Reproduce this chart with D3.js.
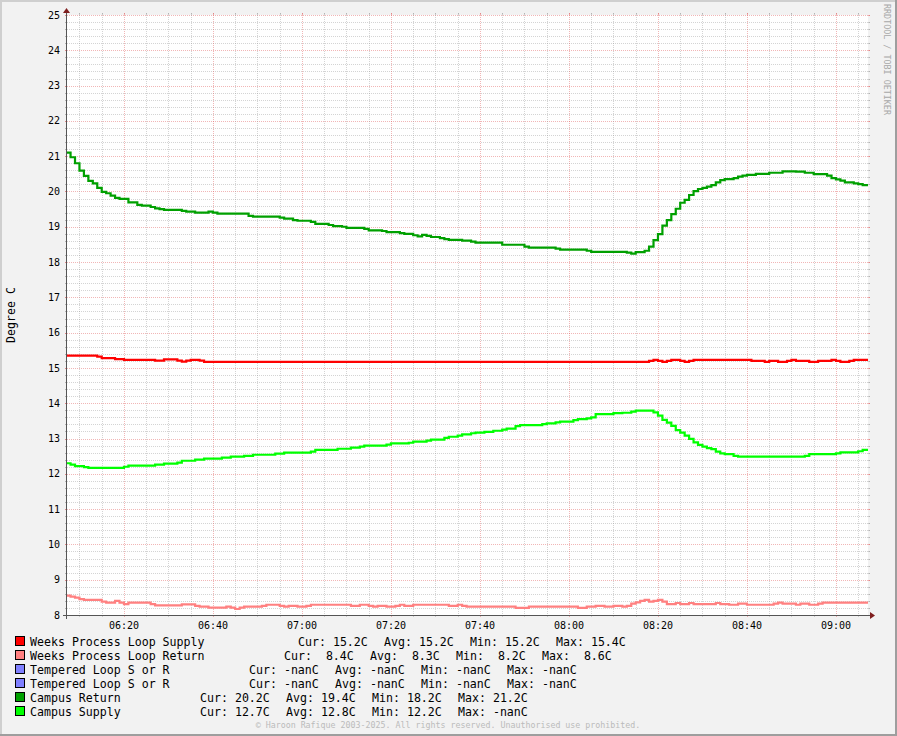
<!DOCTYPE html>
<html>
<head>
<meta charset="utf-8">
<script src="https://cdn.jsdelivr.net/npm/d3@7"></script>
<style>
  html, body { margin: 0; padding: 0; background: #F2F2F2; }
  svg { display: block; }
  text { font-family: "DejaVu Sans Mono", monospace; white-space: pre; }
</style>
</head>
<body>
<svg id="chart" width="897" height="736"></svg>
<script>
// ---------------- DATA ----------------
// time = minutes after 06:00; value in degrees C (step changes, one-minute resolution)
const timeStart = 7.2;   // 06:07:12
const timeEnd = 187.2;   // 09:07:12

const xTickLabels = ["06:20", "06:40", "07:00", "07:20", "07:40", "08:00", "08:20", "08:40", "09:00"];
const xTickMinutes = [20, 40, 60, 80, 100, 120, 140, 160, 180];
const yTickLabels = ["8", "9", "10", "11", "12", "13", "14", "15", "16", "17", "18", "19", "20", "21", "22", "23", "24", "25"];

const weeksSupply = [[7,15.35],[14,15.32],[15,15.28],[18,15.25],[20,15.23],[27,15.21],[29,15.24],[32,15.21],[33,15.18],[34,15.21],[35,15.23],[37,15.21],[38,15.17],[138,15.2],[139,15.23],[140,15.2],[141,15.17],[142,15.2],[143,15.23],[145,15.2],[146,15.17],[147,15.2],[148,15.23],[161,15.2],[164,15.17],[165,15.2],[167,15.17],[169,15.2],[170,15.23],[171,15.2],[174,15.17],[176,15.2],[179,15.23],[180,15.2],[181,15.17],[183,15.2],[184,15.23]];

const weeksReturn = [[7,8.55],[8,8.52],[9,8.49],[10,8.45],[11,8.43],[15,8.38],[16,8.35],[18,8.4],[19,8.35],[20,8.31],[21,8.35],[26,8.31],[27,8.27],[33,8.3],[36,8.26],[37,8.24],[39,8.21],[43,8.24],[44,8.21],[45,8.17],[46,8.21],[47,8.24],[51,8.26],[52,8.29],[55,8.26],[56,8.24],[57,8.26],[59,8.24],[61,8.26],[62,8.29],[71,8.26],[73,8.29],[75,8.26],[76,8.24],[77,8.26],[79,8.24],[81,8.26],[82,8.29],[83,8.26],[85,8.29],[93,8.26],[95,8.29],[96,8.26],[97,8.24],[108,8.2],[111,8.24],[122,8.2],[124,8.24],[126,8.26],[128,8.24],[130,8.26],[132,8.24],[133,8.26],[134,8.32],[135,8.36],[136,8.4],[137,8.43],[138,8.38],[139,8.4],[140,8.43],[141,8.38],[142,8.31],[144,8.34],[145,8.31],[147,8.34],[148,8.31],[153,8.34],[154,8.31],[156,8.29],[158,8.32],[160,8.29],[166,8.32],[167,8.35],[168,8.32],[171,8.29],[172,8.32],[174,8.29],[176,8.32],[177,8.35]];

const temperedSupply = [];
const temperedReturn = [];

const campusReturn = [[7,21.1],[8,20.97],[9,20.8],[10,20.59],[11,20.44],[12,20.3],[13,20.23],[14,20.1],[15,19.99],[16,19.95],[17,19.88],[18,19.82],[19,19.79],[21,19.69],[23,19.62],[24,19.6],[26,19.56],[27,19.52],[28,19.5],[29,19.48],[33,19.45],[34,19.43],[36,19.4],[39,19.43],[40,19.4],[41,19.37],[48,19.31],[49,19.29],[55,19.26],[56,19.23],[58,19.19],[59,19.17],[62,19.14],[63,19.08],[66,19.05],[67,19.02],[69,19.0],[70,18.97],[74,18.94],[75,18.9],[78,18.88],[79,18.85],[82,18.82],[83,18.8],[85,18.76],[86,18.73],[87,18.77],[88,18.74],[89,18.71],[91,18.68],[92,18.65],[93,18.63],[96,18.61],[98,18.58],[99,18.55],[105,18.49],[110,18.44],[111,18.41],[117,18.38],[118,18.35],[124,18.32],[125,18.29],[133,18.27],[134,18.24],[135,18.28],[137,18.32],[138,18.44],[139,18.62],[140,18.79],[141,19.03],[142,19.19],[143,19.36],[144,19.51],[145,19.68],[146,19.76],[147,19.9],[148,20.01],[149,20.07],[150,20.1],[151,20.14],[152,20.18],[153,20.26],[154,20.32],[155,20.35],[157,20.38],[158,20.42],[159,20.45],[160,20.47],[162,20.5],[165,20.53],[168,20.57],[171,20.56],[173,20.53],[175,20.49],[178,20.45],[179,20.38],[180,20.34],[181,20.31],[182,20.26],[184,20.23],[185,20.21],[186,20.18]];

const campusSupply = [[7,12.3],[8,12.26],[9,12.22],[11,12.19],[12,12.17],[20,12.2],[21,12.23],[27,12.26],[29,12.29],[32,12.32],[33,12.37],[36,12.4],[38,12.43],[42,12.46],[44,12.49],[47,12.51],[49,12.54],[54,12.57],[56,12.6],[62,12.63],[63,12.68],[68,12.71],[71,12.74],[73,12.77],[74,12.8],[79,12.83],[80,12.86],[84,12.88],[85,12.91],[88,12.94],[89,12.97],[92,13.02],[93,13.05],[95,13.08],[96,13.12],[98,13.15],[99,13.17],[101,13.19],[103,13.22],[105,13.25],[106,13.28],[108,13.35],[109,13.38],[114,13.41],[115,13.43],[117,13.46],[118,13.48],[121,13.52],[122,13.55],[124,13.57],[125,13.6],[126,13.69],[130,13.72],[132,13.73],[134,13.76],[135,13.79],[139,13.74],[140,13.65],[141,13.53],[142,13.45],[143,13.36],[144,13.24],[145,13.17],[146,13.08],[147,12.99],[148,12.89],[149,12.82],[150,12.77],[151,12.73],[152,12.7],[153,12.63],[154,12.58],[155,12.56],[157,12.51],[158,12.49],[173,12.51],[174,12.56],[180,12.58],[181,12.61],[185,12.64],[186,12.68]];

const seriesNames = ["Weeks Process Loop Supply", "Weeks Process Loop Return", "Tempered Loop S or R", "Tempered Loop S or R", "Campus Return", "Campus Supply"];
const seriesColors = ["#FF0000", "#FF8080", "#8080FF", "#8080FF", "#00A000", "#00FF00"];
const seriesData = [weeksSupply, weeksReturn, temperedSupply, temperedReturn, campusReturn, campusSupply];
const seriesCur = [" 15.2", "  8.4", " -nan", " -nan", " 20.2", " 12.7"];
const seriesAvg = [" 15.2", "  8.3", " -nan", " -nan", " 19.4", " 12.8"];
const seriesMin = [" 15.2", "  8.2", " -nan", " -nan", " 18.2", " 12.2"];
const seriesMax = [" 15.4", "  8.6", " -nan", " -nan", " 21.2", " -nan"];
const statsX = [298, 284, 249, 249, 200, 200];

const yAxisTitle = "Degree C";
const watermark = "RRDTOOL / TOBI OETIKER";
const copyright = "\u00A9 Haroon Rafique 2003-2025. All rights reserved. Unauthorised use prohibited.";

// ---------------- LAYOUT ----------------
const W = 897, H = 736;
const plot = { left: 67, right: 868, top: 15, bottom: 615 };
const base = new Date(2025, 0, 1, 6, 0, 0).getTime();
const tm = m => new Date(base + m * 60000);

const svg = d3.select("#chart");
const x = d3.scaleTime().domain([tm(timeStart), tm(timeEnd)]).range([plot.left, plot.right]);
const y = d3.scaleLinear().domain([8, 25]).range([plot.bottom, plot.top]);

// background & frame
svg.append("rect").attr("x", 0).attr("y", 0).attr("width", W).attr("height", H).attr("fill", "#F2F2F2");
svg.append("rect").attr("x", 0).attr("y", 0).attr("width", W).attr("height", 2).attr("fill", "#CFCFCF");
svg.append("rect").attr("x", 0).attr("y", 0).attr("width", 2).attr("height", H).attr("fill", "#CFCFCF");
svg.append("rect").attr("x", 0).attr("y", H - 2).attr("width", W).attr("height", 2).attr("fill", "#9E9E9E");
svg.append("rect").attr("x", W - 2).attr("y", 0).attr("width", 2).attr("height", H).attr("fill", "#9E9E9E");
svg.append("rect").attr("x", plot.left).attr("y", plot.top).attr("width", plot.right - plot.left)
  .attr("height", plot.bottom - plot.top).attr("fill", "#FFFFFF");

const gridMinor = "rgba(143,143,143,0.38)";
const gridMajor = "rgba(222,80,80,0.42)";
const grid = svg.append("g");

// horizontal grid (every 0.2 C), major every 1 C
const yMinorTicks = d3.range(0, 86).map(i => 8 + i * 0.2).filter(v => v > 8.01);
yMinorTicks.forEach(v => {
  const major = Math.abs(v - Math.round(v)) < 1e-6;
  const yy = Math.round(y(v)) + 0.5;
  const c = major ? gridMajor : gridMinor;
  grid.append("line").attr("x1", plot.left - 2).attr("x2", plot.right + 2).attr("y1", yy).attr("y2", yy)
    .attr("stroke", c).attr("stroke-width", 1).attr("stroke-dasharray", "1,1");
  grid.append("line").attr("x1", plot.left - 2).attr("x2", plot.left).attr("y1", yy).attr("y2", yy).attr("stroke", c);
  grid.append("line").attr("x1", plot.right).attr("x2", plot.right + 2).attr("y1", yy).attr("y2", yy).attr("stroke", c);
});

// vertical grid (every 5 min), major every 20 min
const xMinorTicks = d3.range(10, 187, 5);
xMinorTicks.forEach(m => {
  const major = m % 20 === 0;
  const xx = Math.round(x(tm(m))) + 0.5;
  const c = major ? gridMajor : gridMinor;
  grid.append("line").attr("x1", xx).attr("x2", xx).attr("y1", plot.top - 2).attr("y2", plot.bottom + 2)
    .attr("stroke", c).attr("stroke-width", 1).attr("stroke-dasharray", "1,1");
  grid.append("line").attr("x1", xx).attr("x2", xx).attr("y1", plot.bottom).attr("y2", plot.bottom + 2).attr("stroke", c);
  grid.append("line").attr("x1", xx).attr("x2", xx).attr("y1", plot.top - 2).attr("y2", plot.top).attr("stroke", c);
});

// y labels
yTickLabels.forEach(t => {
  svg.append("text").attr("x", 60).attr("y", y(+t) + 3.6).attr("text-anchor", "end")
    .attr("font-size", 10).attr("fill", "#000").text(t);
});
// x labels
xTickLabels.forEach((t, i) => {
  svg.append("text").attr("x", x(tm(xTickMinutes[i]))).attr("y", 628.6).attr("text-anchor", "middle")
    .attr("font-size", 10).attr("fill", "#000").text(t);
});

// series lines
svg.append("clipPath").attr("id", "clip").append("rect")
  .attr("x", plot.left).attr("y", plot.top - 5).attr("width", plot.right - plot.left).attr("height", plot.bottom - plot.top + 5);
const line = d3.line().x(d => x(tm(d[0]))).y(d => y(d[1])).curve(d3.curveStepAfter);
const lines = svg.append("g").attr("clip-path", "url(#clip)");
seriesData.forEach((s, i) => {
  if (!s.length) return;
  const pts = s.concat([[timeEnd, s[s.length - 1][1]]]);
  lines.append("path").attr("d", line(pts)).attr("fill", "none")
    .attr("stroke", seriesColors[i]).attr("stroke-width", 2.2);
});

// axes
svg.append("line").attr("x1", plot.left - 4).attr("x2", plot.right + 4).attr("y1", plot.bottom + 0.5).attr("y2", plot.bottom + 0.5)
  .attr("stroke", "#555").attr("stroke-width", 1);
svg.append("line").attr("x1", plot.left - 0.5).attr("x2", plot.left - 0.5).attr("y1", plot.bottom + 4).attr("y2", plot.top - 4)
  .attr("stroke", "#555").attr("stroke-width", 1);
svg.append("path").attr("d", `M${plot.right + 2},${plot.bottom - 3}L${plot.right + 2},${plot.bottom + 4}L${plot.right + 7},${plot.bottom + 0.5}Z`)
  .attr("fill", "#7F1F1F");
svg.append("path").attr("d", `M${plot.left - 4},${plot.top - 2}L${plot.left + 3},${plot.top - 2}L${plot.left - 0.5},${plot.top - 7}Z`)
  .attr("fill", "#7F1F1F");

// y axis title
svg.append("text").attr("transform", `translate(15,${(plot.top + plot.bottom) / 2}) rotate(-90)`)
  .attr("text-anchor", "middle").attr("font-size", 11.6).attr("fill", "#000").text(yAxisTitle);

// watermark on the right
svg.append("text").attr("transform", "translate(884,4) rotate(90)")
  .attr("text-anchor", "start").attr("font-size", 8.4).attr("fill", "#A8A8A8").text(watermark);

// legend
const legend = svg.append("g");
seriesNames.forEach((name, i) => {
  const by = 645.5 + i * 14;
  legend.append("rect").attr("x", 15.5).attr("y", by - 9).attr("width", 9).attr("height", 9)
    .attr("fill", seriesColors[i]).attr("stroke", "#000").attr("stroke-width", 1);
  legend.append("text").attr("x", 30).attr("y", by).attr("font-size", 11.6).attr("fill", "#000").text(name);
  const fields = ["Cur:" + seriesCur[i] + "C", "Avg:" + seriesAvg[i] + "C", "Min:" + seriesMin[i] + "C", "Max:" + seriesMax[i] + "C"];
  fields.forEach((f, j) => {
    legend.append("text").attr("x", statsX[i] + j * 86).attr("y", by).attr("font-size", 11.6).attr("fill", "#000").text(f);
  });
});

// copyright
svg.append("text").attr("x", 448).attr("y", 728).attr("text-anchor", "middle")
  .attr("font-size", 8.3).attr("fill", "#BBBBBB").text(copyright);
</script>
</body>
</html>
